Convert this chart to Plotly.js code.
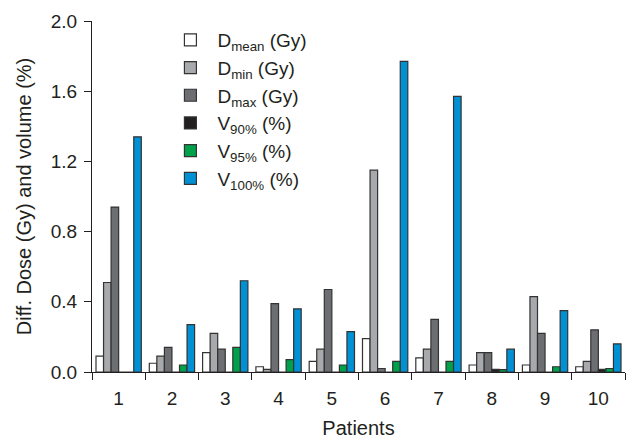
<!DOCTYPE html>
<html>
<head>
<meta charset="utf-8">
<script src="https://cdn.plot.ly/plotly-3.0.1.min.js"></script>
<style>html,body{margin:0;padding:0;background:#fff;}#chart{width:630px;height:439px;}</style>
</head>
<body>
<div id="chart"></div>
<script>
const patients = ['1','2','3','4','5','6','7','8','9','10'];
const seriesNames = [
  'D<sub>mean</sub> (Gy)',
  'D<sub>min</sub> (Gy)',
  'D<sub>max</sub> (Gy)',
  'V<sub>90%</sub> (%)',
  'V<sub>95%</sub> (%)',
  'V<sub>100%</sub> (%)'
];
const seriesColors = ['#ffffff', '#a7a9ac', '#6d6e71', '#231f20', '#00a14b', '#0091d5'];
const dMean = [0.09, 0.05, 0.11, 0.03, 0.06, 0.19, 0.08, 0.04, 0.04, 0.03];
const dMin  = [0.51, 0.09, 0.22, 0.015, 0.13, 1.15, 0.13, 0.11, 0.43, 0.06];
const dMax  = [0.94, 0.14, 0.13, 0.39, 0.47, 0.02, 0.30, 0.11, 0.22, 0.24];
const v90   = [0.0, 0.0, 0.0, 0.0, 0.0, 0.0, 0.0, 0.015, 0.0, 0.015];
const v95   = [0.0, 0.04, 0.14, 0.07, 0.04, 0.06, 0.06, 0.013, 0.03, 0.02];
const v100  = [1.34, 0.27, 0.52, 0.36, 0.23, 1.77, 1.57, 0.13, 0.35, 0.16];
const seriesValues = [dMean, dMin, dMax, v90, v95, v100];

const txt = '#231f20';
const traces = seriesValues.map((vals, i) => ({
  type: 'bar',
  x: patients,
  y: vals,
  name: seriesNames[i],
  legendgroup: 'g' + i,
  marker: {color: seriesColors[i], line: {color: '#333333', width: 1.2}},
  hoverinfo: 'skip'
}));

const layout = {
  width: 630, height: 439,
  margin: {l: 92, r: 5, t: 21, b: 67},
  paper_bgcolor: '#fff', plot_bgcolor: '#fff',
  font: {family: 'Liberation Sans, Arial, sans-serif', color: txt, size: 19},
  barmode: 'group',
  bargap: 0.15,
  bargroupgap: 0,
  showlegend: true,
  legend: {
    x: 0.134, xanchor: 'left', y: 1.0, yanchor: 'top',
    bgcolor: 'rgba(0,0,0,0)', borderwidth: 0,
    font: {size: 19, color: txt},
    traceorder: 'grouped', tracegroupgap: 0,
    itemwidth: 44
  },
  xaxis: {
    type: 'category',
    showline: true, linecolor: txt, linewidth: 1,
    ticks: 'outside', tickson: 'boundaries', ticklen: 7, tickcolor: txt, tickwidth: 1,
    ticklabelstandoff: 9,
    showgrid: false, zeroline: false,
    tickfont: {size: 19, color: txt},
    title: {text: 'Patients', font: {size: 20, color: txt}, standoff: 18},
    automargin: false
  },
  yaxis: {
    range: [0, 2.0], dtick: 0.4, tick0: 0, tickformat: '.1f',
    showline: true, linecolor: txt, linewidth: 1,
    ticks: 'outside', ticklen: 7, tickcolor: txt, tickwidth: 1,
    ticklabelstandoff: 3,
    showgrid: false, zeroline: false,
    tickfont: {size: 19, color: txt},
    title: {text: 'Diff. Dose (Gy) and volume (%)', font: {size: 20, color: txt}, standoff: 13},
    automargin: false
  }
};

Plotly.newPlot('chart', traces, layout, {displayModeBar: false, staticPlot: true});
</script>
</body>
</html>
